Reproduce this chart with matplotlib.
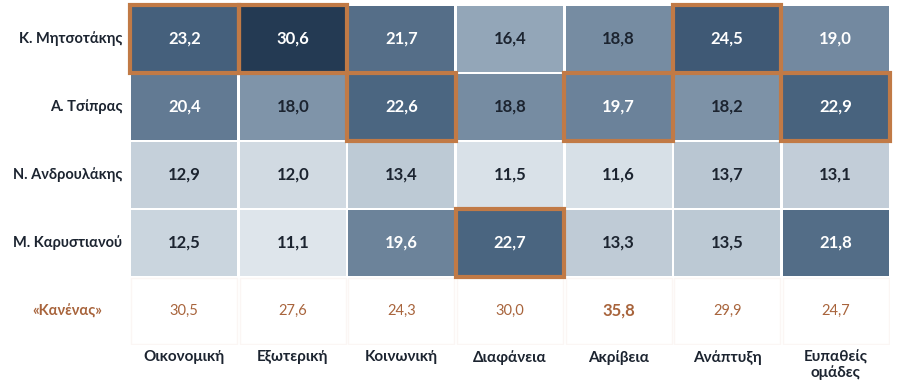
import matplotlib.pyplot as plt
import numpy as np
from matplotlib.colors import LinearSegmentedColormap, Normalize
from matplotlib.patches import Rectangle

plt.rcParams['font.family'] = ['Lato', 'DejaVu Sans']

# data
leaders = ["Κ. Μητσοτάκης", "Α. Τσίπρας", "Ν. Ανδρουλάκης", "Μ. Καρυστιανού"]
topics = ["Οικονομική", "Εξωτερική", "Κοινωνική", "Διαφάνεια", "Ακρίβεια", "Ανάπτυξη", "Ευπαθείς\nομάδες"]
mitsotakis = [23.2, 30.6, 21.7, 16.4, 18.8, 24.5, 19.0]
tsipras = [20.4, 18.0, 22.6, 18.8, 19.7, 18.2, 22.9]
androulakis = [12.9, 12.0, 13.4, 11.5, 11.6, 13.7, 13.1]
karystianou = [12.5, 11.1, 19.6, 22.7, 13.3, 13.5, 21.8]
none_label = "«Κανένας»"
none_vals = [30.5, 27.6, 24.3, 30.0, 35.8, 29.9, 24.7]

values = np.array([mitsotakis, tsipras, androulakis, karystianou])

# colour scale
vmin, vmax = 11.0, 30.6
stops = [(11.0, "#dfe6ec"), (16.4, "#93a6b8"), (20.4, "#627a93"),
         (23.2, "#45607c"), (30.6, "#243a53")]
cmap = LinearSegmentedColormap.from_list(
    "blues", [((v - vmin) / (vmax - vmin), c) for v, c in stops])
norm = Normalize(vmin, vmax)

orange = "#c17a46"
brown = "#a8643c"
dark = "#1c2430"

fig = plt.figure(figsize=(9, 3.87), dpi=100)
ax = fig.add_axes([130 / 900, 42 / 387, 760 / 900, 340 / 387])
nrows, ncols = values.shape
ax.set_xlim(0, ncols)
ax.set_ylim(nrows + 1, 0)
ax.axis("off")

gap = 0.012
for r in range(nrows):
    for c in range(ncols):
        v = values[r, c]
        ax.add_patch(Rectangle((c + gap, r + gap * 1.6), 1 - 2 * gap, 1 - 3.2 * gap,
                               facecolor=cmap(norm(v)), edgecolor="none", zorder=1))
        ax.text(c + 0.5, r + 0.5, f"{v:.1f}".replace(".", ","),
                ha="center", va="center", fontsize=12, fontweight="bold",
                color="white" if v >= 19 else dark, zorder=3)

# highlight max per column
for c in range(ncols):
    r = int(np.argmax(values[:, c]))
    ax.add_patch(Rectangle((c, r), 1, 1, facecolor="none", edgecolor=orange,
                           linewidth=3, zorder=4, clip_on=False))

# "none" row
best = int(np.argmax(none_vals))
for c, v in enumerate(none_vals):
    ax.add_patch(Rectangle((c + gap, nrows + gap * 1.6), 1 - 2 * gap, 1 - 3.2 * gap,
                           facecolor="white", edgecolor="#fbf6f4", linewidth=1, zorder=1))
    ax.text(c + 0.5, nrows + 0.5, f"{v:.1f}".replace(".", ","),
            ha="center", va="center", fontsize=12 if c == best else 10.5,
            fontweight="bold" if c == best else "normal", color=brown, zorder=3)

# labels
for r, name in enumerate(leaders):
    ax.text(-0.07, r + 0.5, name, ha="right", va="center", fontsize=10.5,
            fontweight="bold", color=dark)
ax.text(-0.25, nrows + 0.5, none_label, ha="right", va="center", fontsize=10.5,
        fontweight="bold", color=brown)
for c, t in enumerate(topics):
    ax.text(c + 0.5, nrows + 1.08, t, ha="center", va="top", fontsize=11,
            fontweight="bold", color=dark, linespacing=1.05)

fig.savefig("out.png", dpi=100, facecolor="white")
